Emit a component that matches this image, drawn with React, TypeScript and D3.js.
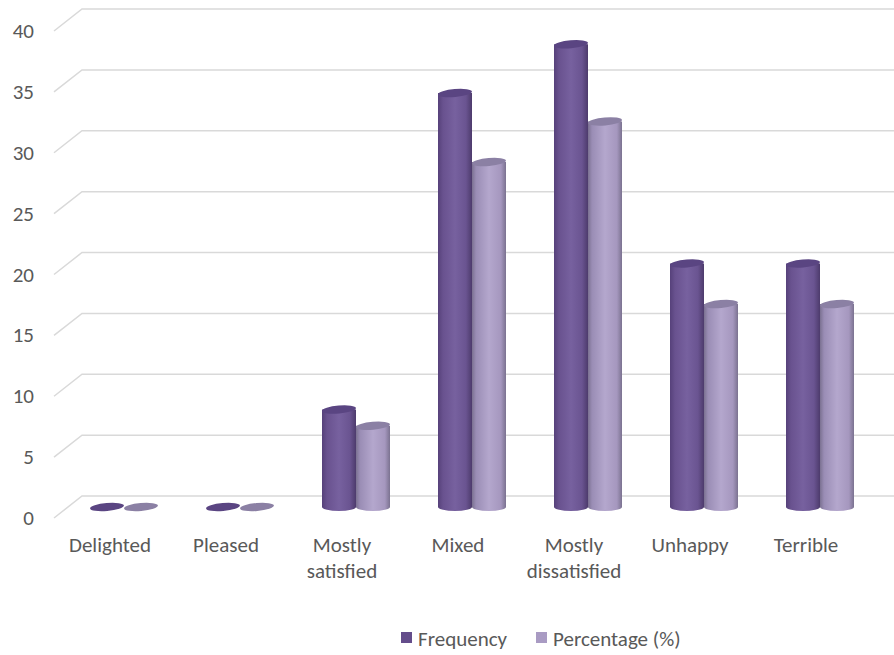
import React from "react";
import * as d3 from "d3";

const categories = ["Delighted", "Pleased", "Mostly satisfied", "Mixed", "Mostly dissatisfied", "Unhappy", "Terrible"];
const seriesNames = ["Frequency", "Percentage (%)"];
const frequency = [0, 0, 8, 34, 38, 20, 20];
const percentage = [0, 0, 6.67, 28.33, 31.67, 16.67, 16.67];
const yTicks = [0, 5, 10, 15, 20, 25, 30, 35, 40];

const width = 894;
const height = 655;
const font = "Carlito, Calibri, Lato, 'Open Sans', sans-serif";
const textColor = "#595959";

// depth offset between front plane, middle (bars) and back wall
const depthX = 14;
const depthY = 11;
const base = 507; // y of 0 on the middle plane

const App = () => {
  const x = d3.scaleBand<string>().domain(categories).range([52 + depthX, 864 + depthX]).padding(0);
  const xSub = d3.scaleBand<string>().domain(seriesNames).range([-34, 34]).padding(0);
  const y = d3.scaleLinear().domain([0, 40]).range([base, base - 487]);

  const rx = xSub.bandwidth() / 2;
  const ry = 4;

  const cylinder = (cx: number, v: number, i: number, key: string) => {
    const top = y(v);
    const bottom = y(0);
    const l = cx - rx;
    const r = cx + rx;
    const fill = i === 0 ? "url(#gFreq)" : "url(#gPct)";
    const topFill = i === 0 ? "#5a4582" : "#8b80a4";
    if (v === 0) {
      return (
        <ellipse key={key} cx={cx} cy={bottom} rx={rx} ry={ry} fill={topFill}
          transform={`rotate(-5 ${cx} ${bottom})`} />
      );
    }
    const d = `M${l},${top} L${l},${bottom} A${rx},${ry} 0 0 0 ${r},${bottom} L${r},${top} Z`;
    return (
      <g key={key}>
        <path d={d} fill={fill} />
        <ellipse cx={cx} cy={top} rx={rx} ry={ry} fill={topFill} transform={`rotate(-5 ${cx} ${top})`} />
      </g>
    );
  };

  return (
    <svg width={width} height={height} style={{ position: "absolute", left: 0, top: 0 }}>
      <defs>
        <linearGradient id="gFreq" x1="0" x2="1" y1="0" y2="0">
          <stop offset="0%" stopColor="#56417a" />
          <stop offset="15%" stopColor="#69528f" />
          <stop offset="50%" stopColor="#77619f" />
          <stop offset="82%" stopColor="#6a5491" />
          <stop offset="100%" stopColor="#4d3b6c" />
        </linearGradient>
        <linearGradient id="gPct" x1="0" x2="1" y1="0" y2="0">
          <stop offset="0%" stopColor="#7b7191" />
          <stop offset="12%" stopColor="#9a8db5" />
          <stop offset="50%" stopColor="#b4a7cd" />
          <stop offset="85%" stopColor="#a597be" />
          <stop offset="100%" stopColor="#7b7290" />
        </linearGradient>
      </defs>

      {/* gridlines: front edge -> back wall */}
      {yTicks.map(t => {
        const yb = y(t) - depthY;
        const yf = y(t) + depthY;
        return (
          <polyline key={t}
            points={`54,${yf} ${54 + 2 * depthX},${yb} ${width},${yb}`}
            fill="none" stroke="#d9d9d9" strokeWidth={1.5} />
        );
      })}

      {/* tick labels */}
      {yTicks.map(t => (
        <text key={t} x={34} y={y(t) + depthY} textAnchor="end" dominantBaseline="central"
          fontFamily={font} fontSize={21} fill={textColor}>{t}</text>
      ))}

      {/* cylinders */}
      {categories.map((c, ci) => {
        const cx = (x(c) as number) + x.bandwidth() / 2;
        return (
          <g key={c}>
            {[frequency, percentage].map((vals, si) =>
              cylinder(cx + (xSub(seriesNames[si]) as number) + rx, vals[ci], si, c + si))}
          </g>
        );
      })}

      {/* category labels */}
      {categories.map(c => {
        const cx = (x(c) as number) + x.bandwidth() / 2 - depthX;
        const words = c.startsWith("Mostly") ? ["Mostly", c.slice(7)] : [c];
        return (
          <text key={c} x={cx} y={552} textAnchor="middle" fontFamily={font} fontSize={21} fill={textColor}>
            {words.map((w, i) => (
              <tspan key={i} x={cx} dy={i === 0 ? 0 : 26}>{w}</tspan>
            ))}
          </text>
        );
      })}

      {/* legend */}
      <rect x={401} y={632} width={11} height={11} fill="#644d8b" />
      <text x={418} y={646} fontFamily={font} fontSize={21} fill={textColor}>Frequency</text>
      <rect x={536} y={632} width={11} height={11} fill="#a99bc3" />
      <text x={553} y={646} fontFamily={font} fontSize={21} fill={textColor}>Percentage (%)</text>
    </svg>
  );
};

export default App;
